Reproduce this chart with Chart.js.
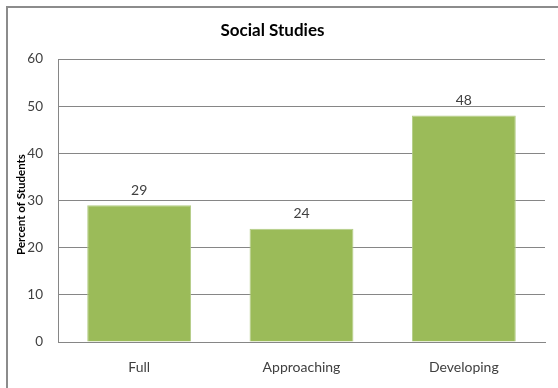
<!DOCTYPE html>
<html><head><meta charset="utf-8">
<script src="https://cdn.jsdelivr.net/npm/chart.js@4/dist/chart.umd.min.js"></script>
<style>html,body{margin:0;padding:0;background:#fff}#wrap{width:558px;height:388px}</style>
</head><body><div id="wrap"><canvas id="c" width="558" height="388"></canvas></div>
<script>
const categories = ["Full", "Approaching", "Developing"];
const values = [29, 24, 48];
const yTicks = [0, 10, 20, 30, 40, 50, 60];
const chartTitle = "Social Studies";
const yTitle = "Percent of Students";

const FONT = "Lato, 'Liberation Sans', sans-serif";

const extras = {
  id: 'extras',
  beforeDraw(chart) {
    const ctx = chart.ctx;
    ctx.save();
    ctx.fillStyle = '#fff';
    ctx.fillRect(0, 0, chart.width, chart.height);
    ctx.strokeStyle = '#8c8c8c';
    ctx.lineWidth = 2;
    ctx.strokeRect(7, 7, chart.width + 20, chart.height + 20);
    ctx.restore();
  },
  afterDraw(chart) {
    const ctx = chart.ctx;
    const meta = chart.getDatasetMeta(0);
    ctx.save();
    ctx.fillStyle = '#404040';
    ctx.font = '14px ' + FONT;
    ctx.textAlign = 'center';
    ctx.textBaseline = 'middle';
    meta.data.forEach((bar, i) => {
      ctx.fillText(String(values[i]), bar.x, bar.y - 15);
    });
    const area = chart.chartArea;
    ctx.translate(21, (area.top + area.bottom) / 2 + 4);
    ctx.rotate(-Math.PI / 2);
    ctx.font = 'bold 11.5px ' + FONT;
    ctx.fillStyle = '#000';
    ctx.fillText(yTitle, 0, 0);
    ctx.restore();
  }
};

new Chart(document.getElementById('c'), {
  type: 'bar',
  data: {
    labels: categories,
    datasets: [{
      data: values,
      backgroundColor: '#9BBB59',
      borderColor: '#B3CC85',
      borderWidth: 1,
      categoryPercentage: 0.64,
      barPercentage: 1.0
    }]
  },
  options: {
    responsive: false,
    animation: false,
    devicePixelRatio: 1,
    layout: { padding: { left: 0, right: 13, top: 0, bottom: 0 } },
    plugins: {
      legend: { display: false },
      tooltip: { enabled: false },
      title: {
        display: true,
        text: chartTitle,
        color: '#000',
        font: { family: FONT, size: 17, weight: 'bold' },
        padding: { top: 20, bottom: 18.6 }
      }
    },
    scales: {
      x: {
        grid: { display: false, drawTicks: false },
        border: { display: true, color: '#868686', width: 1 },
        ticks: { color: '#404040', font: { family: FONT, size: 14 }, padding: 17 },
        afterFit(s) { s.height = 46; }
      },
      y: {
        min: 0, max: 60,
        afterBuildTicks(s) { s.ticks = yTicks.map(v => ({ value: v })); },
        grid: { color: '#868686', lineWidth: 1, drawTicks: false },
        border: { display: true, color: '#868686', width: 1 },
        ticks: { color: '#404040', font: { family: FONT, size: 13.5 }, padding: 15 },
        afterFit(s) { s.width = 58; }
      }
    }
  },
  plugins: [extras]
});
</script></body></html>
